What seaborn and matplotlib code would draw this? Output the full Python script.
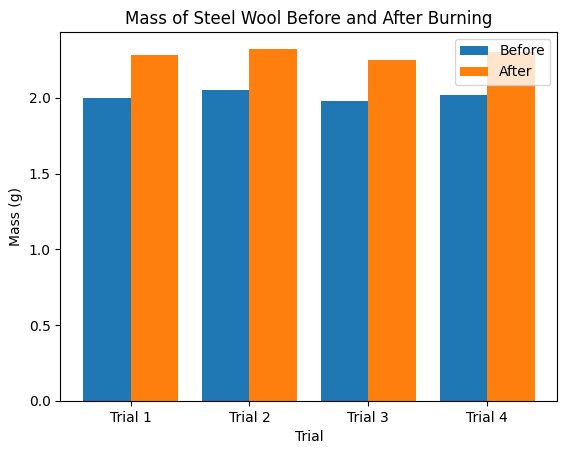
import matplotlib
matplotlib.use("Agg")
import matplotlib.pyplot as plt
import seaborn as sns
import pandas as pd

trials = ["Trial 1", "Trial 2", "Trial 3", "Trial 4"]
before = [2.00, 2.05, 1.98, 2.02]
after = [2.28, 2.32, 2.25, 2.30]

df = pd.DataFrame({
    "Trial": trials * 2,
    "Mass": before + after,
    "When": ["Before"] * 4 + ["After"] * 4,
})

fig, ax = plt.subplots(figsize=(5.67, 4.55), dpi=100)
fig.subplots_adjust(left=0.1065, right=0.983, bottom=0.119, top=0.930)

sns.barplot(data=df, x="Trial", y="Mass", hue="When", ax=ax,
            palette=["#1f77b4", "#ff7f0e"], saturation=1, width=0.8,
            errorbar=None)

ax.set_xlim(-0.59, 3.59)
ax.set_ylim(0, 2.436)
ax.set_xlabel("Trial")
ax.set_ylabel("Mass (g)")
ax.set_title("Mass of Steel Wool Before and After Burning")
ax.legend(loc="upper right")

fig.savefig("out.png")
